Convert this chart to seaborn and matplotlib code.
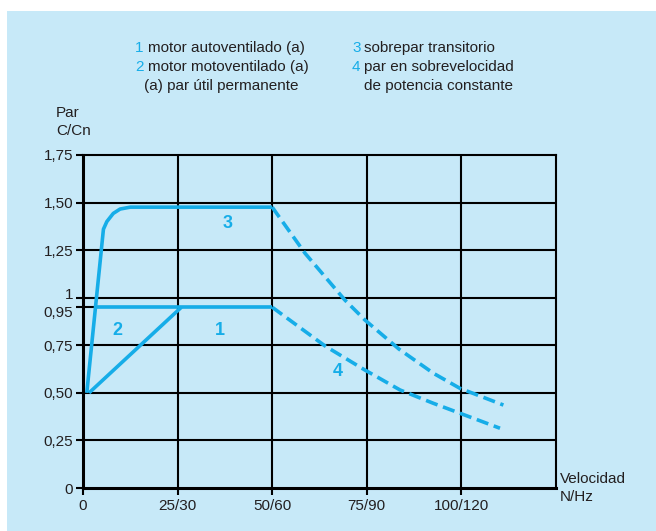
import matplotlib
matplotlib.use("Agg")
import matplotlib.pyplot as plt
import matplotlib.transforms as mtransforms
from matplotlib.patches import Rectangle
import seaborn as sns
import pandas as pd

sns.set_theme(style="white")
plt.rcParams["font.family"] = ["Liberation Sans", "DejaVu Sans"]

BLUE = "#16ade8"
BG = "#c7e9f8"
INK = "#231f20"

# Axis ticks
x_ticks = [0, 25, 50, 75, 100]
x_labels = ["0", "25/30", "50/60", "75/90", "100/120"]
y_ticks = [0, 0.25, 0.5, 0.75, 0.95, 1.0, 1.25, 1.5, 1.75]
y_labels = ["0", "0,25", "0,50", "0,75", "0,95", "1", "1,25", "1,50", "1,75"]

# Curve 3: transient overtorque (solid part)
c3_x = [1.0, 5.4, 6.3, 8.0, 9.8, 12.5, 50.0]
c3_y = [0.50, 1.36, 1.40, 1.443, 1.466, 1.476, 1.476]
# Curve 2: forced-ventilation motor
c2_x = [3.6, 50.0]
c2_y = [0.95, 0.95]
# Curve 1: self-ventilated motor
c1_x = [1.6, 26.0]
c1_y = [0.50, 0.95]
# Dashed continuation of curve 3 above base speed
c3d_x = [50.0, 58.7, 69.2, 74.5, 83.5, 92.6, 99.6, 111.1]
c3d_y = [1.476, 1.233, 0.988, 0.883, 0.73, 0.603, 0.524, 0.436]
# Curve 4: overspeed torque at constant power
c4_x = [50.0, 64.0, 74.5, 83.8, 92.6, 99.6, 110.2]
c4_y = [0.95, 0.746, 0.62, 0.515, 0.445, 0.393, 0.314]

W, H = 656, 531
fig = plt.figure(figsize=(W / 100, H / 100), dpi=100, facecolor="white")
fig.patches.append(Rectangle((7 / W, 0), 1, (H - 11) / H, transform=fig.transFigure,
                             facecolor=BG, edgecolor="none", zorder=-10))

ax = fig.add_axes([83 / W, 1 - 488 / H, (556 - 83) / W, (488 - 155) / H])
ax.set_facecolor(BG)
ax.set_xlim(0, 125)
ax.set_ylim(0, 1.75)

# Grid
for x in [25, 50, 75, 100]:
    ax.axvline(x, color="black", lw=1.5, zorder=1)
for y in [0.25, 0.5, 0.75, 1.0, 1.25, 1.5]:
    ax.axhline(y, color="black", lw=1.5, zorder=1)
ax.plot([0, 50], [0.95, 0.95], color="black", lw=1.5, zorder=1)

for side in ["top", "right"]:
    ax.spines[side].set_color("black")
    ax.spines[side].set_linewidth(1.5)
for side in ["left", "bottom"]:
    ax.spines[side].set_color("black")
    ax.spines[side].set_linewidth(2.2)

def draw(xs, ys, dashed=False):
    df = pd.DataFrame({"x": xs, "y": ys})
    sns.lineplot(data=df, x="x", y="y", sort=False, ax=ax, color=BLUE,
                 lw=2.6, zorder=3)
    l = ax.lines[-1]
    l.set_solid_capstyle("butt")
    if dashed:
        l.set_dashes((3.4, 1.6))
        l.set_dash_capstyle("butt")

draw(c3_x, c3_y)
draw(c2_x, c2_y)
draw(c1_x, c1_y)
draw(c3d_x, c3d_y, dashed=True)
draw(c4_x, c4_y, dashed=True)

ax.set_xticks(x_ticks)
ax.set_xticklabels(x_labels)
ax.set_yticks(y_ticks)
ax.set_yticklabels(y_labels)
ax.tick_params(axis="both", direction="out", length=5, width=1.5, color="black",
               labelsize=11, labelcolor=INK, left=True, bottom=True)
ax.tick_params(axis="x", pad=3)
ax.tick_params(axis="y", pad=2)
ax.set_xlabel("")
ax.set_ylabel("")

# Spread the two close labels (0,95 and 1) apart a little
for lab in ax.get_yticklabels():
    t = lab.get_text()
    if t == "1":
        lab.set_transform(lab.get_transform() + mtransforms.ScaledTranslation(0, 4 / 100, fig.dpi_scale_trans))
    elif t == "0,95":
        lab.set_transform(lab.get_transform() + mtransforms.ScaledTranslation(0, -4 / 100, fig.dpi_scale_trans))

# Curve numbers
for txt, x, y in [("3", 38.3, 1.39), ("1", 36.2, 0.83), ("2", 9.0, 0.83), ("4", 67.4, 0.61)]:
    ax.text(x, y, txt, color=BLUE, fontsize=13, fontweight="bold",
            ha="center", va="center", zorder=4)

def ftext(px, py, s, **kw):
    fig.text(px / W, 1 - py / H, s, va="center", fontsize=11, **kw)

# Header legend
ftext(135, 48, "1", color=BLUE)
ftext(148, 48, "motor autoventilado (a)", color=INK)
ftext(135, 67, "2", color=BLUE)
ftext(148, 67, "motor motoventilado (a)", color=INK)
ftext(144, 86, "(a) par útil permanente", color=INK)
ftext(352, 48, "3", color=BLUE)
ftext(364, 48, "sobrepar transitorio", color=INK)
ftext(352, 67, "4", color=BLUE)
ftext(364, 67, "par en sobrevelocidad", color=INK)
ftext(364, 86, "de potencia constante", color=INK)

# Axis titles
ftext(56, 113, "Par", color=INK)
ftext(56, 131, "C/Cn", color=INK)
ftext(560, 479, "Velocidad", color=INK)
ftext(560, 497, "N/Hz", color=INK)

fig.savefig("out.png", dpi=100, facecolor="white")
